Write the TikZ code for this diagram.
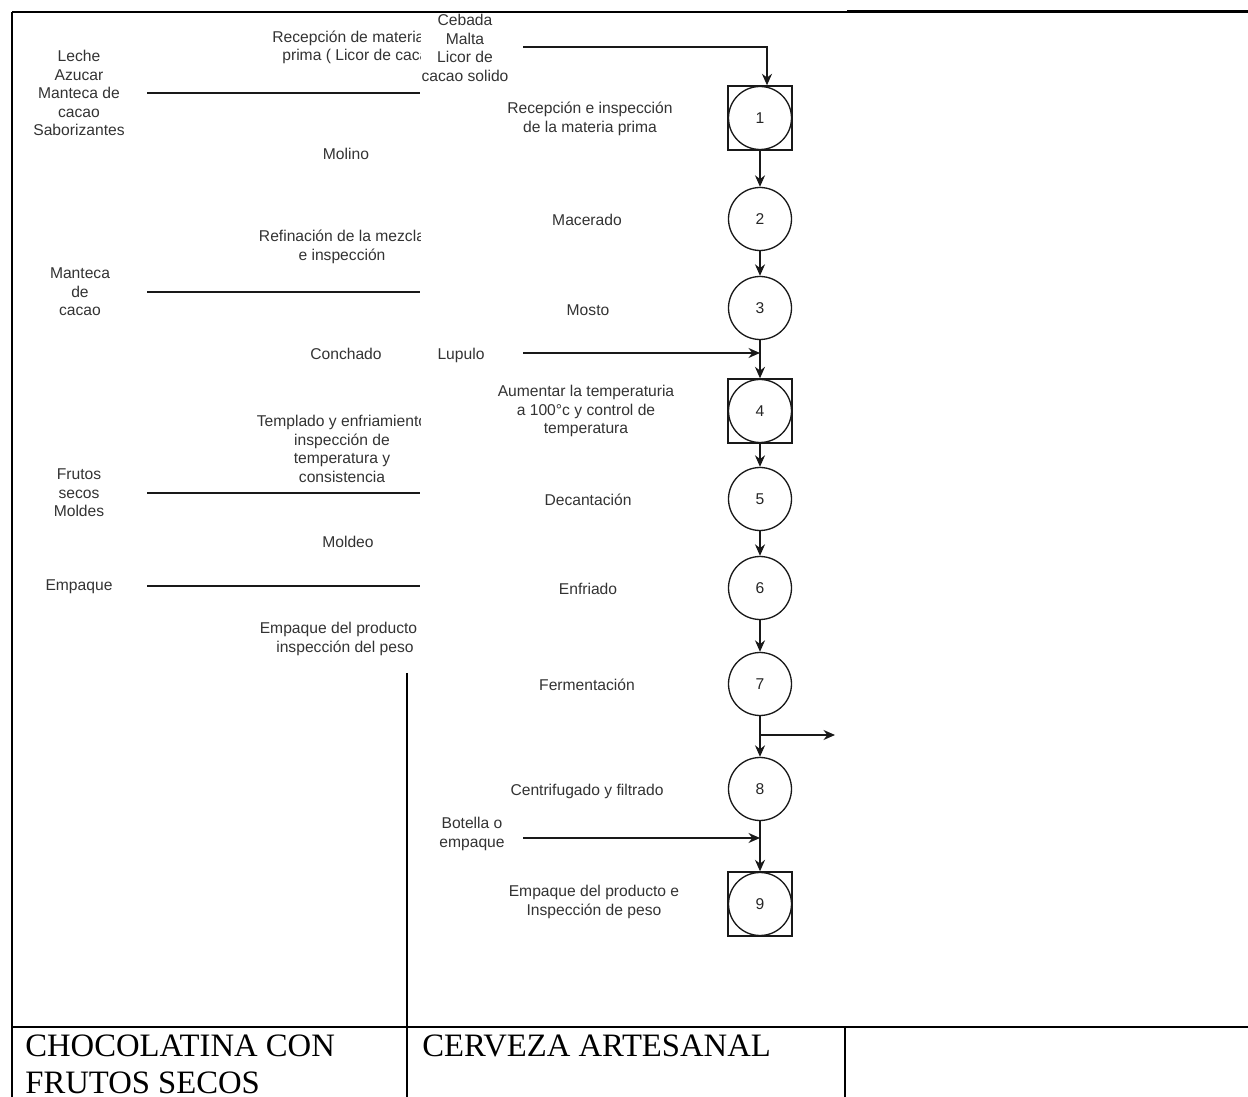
\documentclass[tikz,border=0pt]{standalone}
\usepackage{fontspec}
\setmainfont{Liberation Serif}
\newfontfamily\diagfont{Liberation Sans}
\usetikzlibrary{arrows.meta}
\tikzset{
  gridline/.style={line width=1.15pt, draw=black},
  feedline/.style={line width=0.85pt, draw=black!90},
  flow/.style={line width=0.85pt, draw=black!90, -{Stealth[length=2.3mm,width=2mm]}},
  procstep/.style={circle, draw=black!90, line width=0.75pt, minimum size=1.26cm, inner sep=0pt,
    font=\diagfont\fontsize{8.9}{10.5}\selectfont, text=black!85},
  inspbox/.style={rectangle, draw=black!90, line width=0.75pt, minimum size=1.28cm, inner sep=0pt},
  lbl/.style={font=\diagfont\fontsize{8.9}{10.5}\selectfont, text=black!80, align=center, inner sep=0pt},
  celltext/.style={font=\fontsize{18.6}{20.5}\selectfont, align=left, inner sep=0pt, anchor=north west},
}

\begin{document}
\begin{tikzpicture}[x=0.02cm, y=-0.02cm]
\useasboundingbox (0,0) rectangle (1248,1097);

% table frame
\draw[gridline] (12,12) -- (1248,12);
\draw[gridline, line width=1.7pt] (847,12) -- (1248,12);
\draw[gridline, line width=1.5pt] (12,12) -- (12,1097);
\draw[gridline] (12,1027) -- (1248,1027);
\draw[gridline] (407,673) -- (407,1097);
\draw[gridline] (845,1027) -- (845,1097);
\node[celltext] (choco) at (25,1035) {CHOCOLATINA CON\\FRUTOS SECOS};
\node[celltext] (cerveza) at (422,1035) {CERVEZA ARTESANAL};

% chocolate column, cut off on the right
\begin{scope}
\clip (12,12) rectangle (420,700);
\foreach \y/\n in {93/a,292/b,493/c,586/d} {
  \coordinate (in\n) at (147,\y);
  \draw[feedline] (in\n) -- ++(273,0);
}
\node[lbl] (leche) at (79,93) {Leche\\Azucar\\Manteca de\\cacao\\Saborizantes};
\node[lbl, anchor=west] (rec1) at (272,38) {Recepción de materia};
\node[lbl, anchor=west] (rec2) at (282,56) {prima ( Licor de cacao )};
\node[lbl] (molino) at (346,154) {Molino};
\node[lbl] (refina) at (342,247) {Refinación de la mezcla\\e inspección};
\node[lbl] (manteca) at (80,292) {Manteca\\de\\cacao};
\node[lbl] (conchado) at (346,354) {Conchado};
\node[lbl] (templado) at (342,449) {Templado y enfriamiento\\inspección de\\temperatura y\\consistencia};
\node[lbl] (frutos) at (79,493) {Frutos\\secos\\Moldes};
\node[lbl] (moldeo) at (348,542) {Moldeo};
\node[lbl] (empaque) at (79,587) {Empaque};
\node[lbl] (empprod) at (345,639) {Empaque del producto e\\inspección del peso};
\end{scope}

% beer column
\node[inspbox] (b1) at (760,118) {};
\node[procstep] (s1) at (760,118) {1};
\node[procstep] (s2) at (760,219) {2};
\node[procstep] (s3) at (760,308) {3};
\node[inspbox] (b4) at (760,411) {};
\node[procstep] (s4) at (760,411) {4};
\node[procstep] (s5) at (760,499) {5};
\node[procstep] (s6) at (760,588) {6};
\node[procstep] (s7) at (760,684) {7};
\node[procstep] (s8) at (760,789) {8};
\node[inspbox] (b9) at (760,904) {};
\node[procstep] (s9) at (760,904) {9};

\draw[flow] (b1) -- (s2);
\draw[flow] (s2) -- (s3);
\draw[flow] (s3) -- (b4);
\draw[flow] (b4) -- (s5);
\draw[flow] (s5) -- (s6);
\draw[flow] (s6) -- (s7);
\draw[flow] (s7) -- (s8);
\draw[flow] (s8) -- (b9);

% inputs and output
\coordinate (cebin) at (523,47);
\coordinate (lupin) at (523,353);
\coordinate (botin) at (523,838);
\coordinate (salida) at (835,735);
\draw[flow] (cebin) -| ([xshift=0.14cm]b1.north);
\draw[flow] (lupin) -- (lupin -| s3.south);
\draw[flow] (botin) -- (botin -| s8.south);
\draw[flow] (salida -| s7.south) -- (salida);

\node[lbl] (cebada) at (465,48) {Cebada\\Malta\\Licor de\\cacao solido};
\node[lbl] (t1) at (590,119) {Recepción e inspección\\de la materia prima};
\node[lbl] (t2) at (587,220) {Macerado};
\node[lbl] (t3) at (588,310) {Mosto};
\node[lbl] (lupulo) at (461,355) {Lupulo};
\node[lbl] (t4) at (586,411) {Aumentar la temperaturia\\a 100°c y control de\\temperatura};
\node[lbl] (t5) at (588,500) {Decantación};
\node[lbl] (t6) at (588,589) {Enfriado};
\node[lbl] (t7) at (587,685) {Fermentación};
\node[lbl] (t8) at (587,791) {Centrifugado y filtrado};
\node[lbl] (botella) at (472,834) {Botella o\\empaque};
\node[lbl] (t9) at (594,902) {Empaque del producto e\\Inspección de peso};
\end{tikzpicture}
\end{document}
